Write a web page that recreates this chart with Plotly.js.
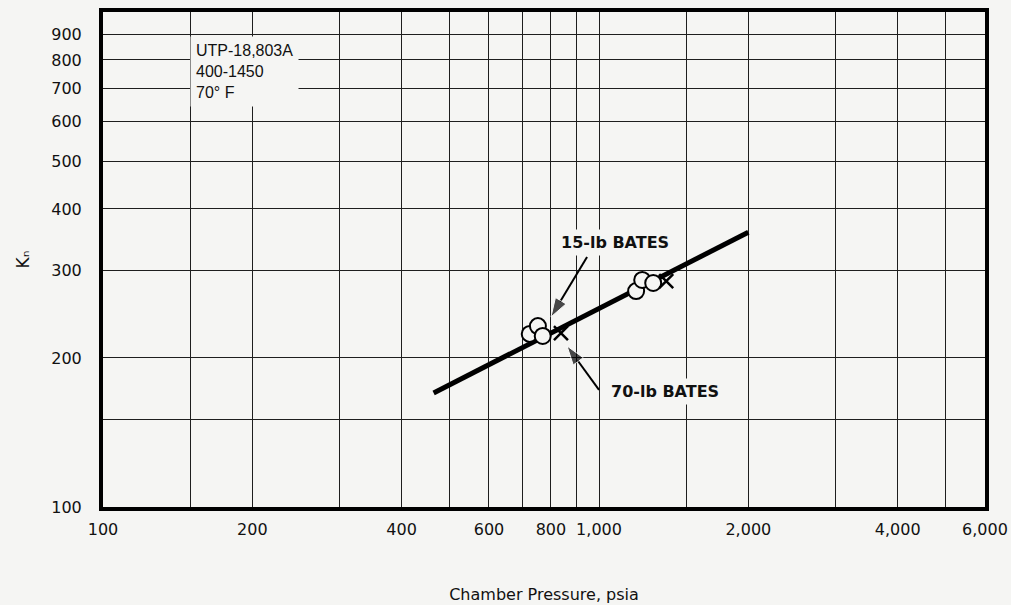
<!DOCTYPE html>
<html>
<head>
<meta charset="utf-8">
<script src="https://cdn.plot.ly/plotly-3.0.1.min.js"></script>
<style>
  html, body { margin: 0; padding: 0; background: #f5f5f3; }
  #chart { width: 1011px; height: 605px; }
</style>
</head>
<body>
<div id="chart"></div>
<script>
// Burning-rate coefficient K_n versus chamber pressure (log-log)
const fitPressure = [464, 2000];
const fitKn = [170, 359];

// 15-lb BATES motor firings (open circles)
const bates15Pressure = [725, 753, 770, 1188, 1222, 1286];
const bates15Kn = [223.7, 232, 221.6, 273, 287.5, 283.5];

// 70-lb BATES motor firings (crosses)
const bates70Pressure = [838, 1366];
const bates70Kn = [224.6, 286];

// Labelled ticks
const xTickVals = [100, 200, 400, 600, 800, 1000, 2000, 4000, 6000];
const xTickText = ['100', '200', '400', '600', '800', '1,000', '2,000', '4,000', '6,000'];
const yTickVals = [100, 200, 300, 400, 500, 600, 700, 800, 900];
const yTickText = ['100', '200', '300', '400', '500', '600', '700', '800', '900'];

// Unlabelled grid lines
const xMinorVals = [150, 300, 500, 700, 900, 1500, 3000, 5000];
const yMinorVals = [150];

// Leader lines from the callout labels: [tail, tip] in axis units
const leader15 = { x: [946, 800], y: [320, 242] };
const leader70 = { x: [1000, 862], y: [172.4, 211.5] };

const bg = '#f5f5f3';
const ink = '#111111';
const gridInk = '#1e1e1e';
const lg = Math.log10;

function leaderTrace(ld) {
  return {
    x: ld.x, y: ld.y, mode: 'lines+markers', type: 'scatter', hoverinfo: 'skip',
    line: { color: '#000', width: 2 },
    marker: { symbol: ['circle', 'arrow'], size: [0, 20], color: '#000', angleref: 'previous' }
  };
}

const traces = [
  {
    x: fitPressure, y: fitKn, mode: 'lines', type: 'scatter',
    line: { color: '#000', width: 5 }, hoverinfo: 'skip'
  },
  {
    x: bates15Pressure, y: bates15Kn, mode: 'markers', type: 'scatter', name: '15-lb BATES',
    marker: { symbol: 'circle', size: 16, color: bg, line: { color: '#000', width: 2 } }
  },
  {
    x: bates70Pressure, y: bates70Kn, mode: 'markers', type: 'scatter', name: '70-lb BATES',
    marker: { symbol: 'x-thin-open', size: 14, color: '#000', line: { color: '#000', width: 2.5 } }
  },
  leaderTrace(leader15),
  leaderTrace(leader70)
];

const tickFont = { family: 'DejaVu Sans, sans-serif', size: 16, color: ink };

function axisCommon(minorVals) {
  return {
    tickmode: 'array',
    showgrid: true, gridcolor: gridInk, gridwidth: 1,
    minor: { tickmode: 'array', tickvals: minorVals, showgrid: true, gridcolor: gridInk, gridwidth: 1, ticks: '' },
    showline: true, linecolor: '#000', linewidth: 4, mirror: true,
    ticks: '', tickfont: tickFont
  };
}

const layout = {
  width: 1011, height: 605,
  margin: { l: 103, r: 26, t: 12, b: 98, pad: 0 },
  paper_bgcolor: bg, plot_bgcolor: bg,
  showlegend: false,
  xaxis: Object.assign(axisCommon(xMinorVals), {
    type: 'log', range: [2, lg(6000)],
    tickvals: xTickVals, ticktext: xTickText, ticklabelstandoff: 5,
    title: { text: 'Chamber Pressure, psia', font: { family: 'DejaVu Sans, sans-serif', size: 16, color: ink }, standoff: 52 }
  }),
  yaxis: Object.assign(axisCommon(yMinorVals), {
    type: 'log', range: [2, 3],
    tickvals: yTickVals, ticktext: yTickText, ticklabelstandoff: 14,
    title: { text: 'Kₙ', font: { family: 'DejaVu Sans, sans-serif', size: 17, color: ink }, standoff: 18 }
  }),
  annotations: [
    {
      text: 'UTP-18,803A<br>400-1450<br>70° F',
      x: lg(149.9), y: lg(894), xref: 'x', yref: 'y',
      xanchor: 'left', yanchor: 'top', align: 'left', showarrow: false,
      bgcolor: bg, borderpad: 5,
      font: { family: 'Liberation Sans, Arial, sans-serif', size: 16, color: ink }
    },
    {
      text: '<b>15-lb BATES</b>',
      x: lg(1077), y: lg(343), xref: 'x', yref: 'y', showarrow: false,
      bgcolor: bg, borderpad: 3,
      font: { family: 'DejaVu Sans, sans-serif', size: 16, color: ink }
    },
    {
      text: '<b>70-lb BATES</b>',
      x: lg(1359), y: lg(170.8), xref: 'x', yref: 'y', showarrow: false,
      bgcolor: bg, borderpad: 3,
      font: { family: 'DejaVu Sans, sans-serif', size: 16, color: ink }
    }
  ]
};

Plotly.newPlot('chart', traces, layout, { staticPlot: true, displayModeBar: false });
</script>
</body>
</html>
